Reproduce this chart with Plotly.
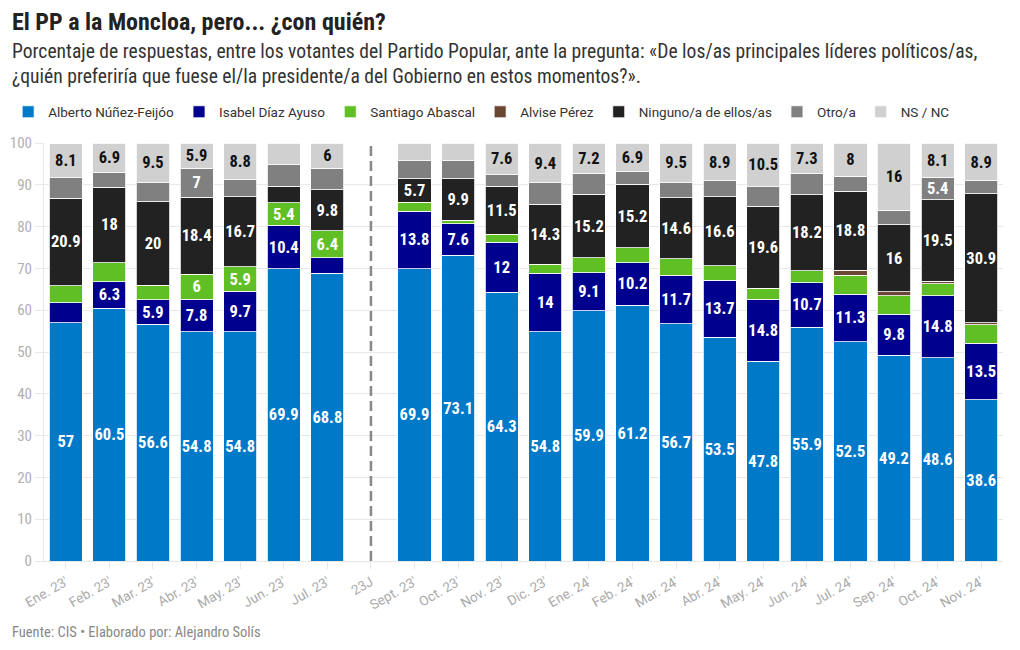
import plotly.graph_objects as go

categories = ["Ene. 23'", "Feb. 23'", "Mar. 23'", "Abr. 23'", "May. 23'", "Jun. 23'", "Jul. 23'", "23J",
              "Sept. 23'", "Oct. 23'", "Nov. 23'", "Dic. 23'", "Ene. 24'", "Feb. 24'", "Mar. 24'", "Abr. 24'",
              "May. 24'", "Jun. 24'", "Jul. 24'", "Sep. 24'", "Oct. 24'", "Nov. 24'"]

feijoo  = [57, 60.5, 56.6, 54.8, 54.8, 69.9, 68.8, None, 69.9, 73.1, 64.3, 54.8, 59.9, 61.2, 56.7, 53.5, 47.8, 55.9, 52.5, 49.2, 48.6, 38.6]
ayuso   = [4.8, 6.3, 5.9, 7.8, 9.7, 10.4, 3.8, None, 13.8, 7.6, 12, 14, 9.1, 10.2, 11.7, 13.7, 14.8, 10.7, 11.3, 9.8, 14.8, 13.5]
abascal = [4.1, 4.6, 3.5, 6, 5.9, 5.4, 6.4, None, 2.1, 0.8, 1.9, 2.2, 3.5, 3.5, 3.9, 3.4, 2.7, 2.8, 4.6, 4.5, 2.9, 4.4]
alvise  = [0, 0, 0, 0, 0, 0, 0, None, 0, 0, 0, 0, 0, 0, 0, 0, 0, 0, 1.2, 0.9, 0.6, 0.5]
ninguno = [20.9, 18, 20, 18.4, 16.7, 4.0, 9.8, None, 5.7, 9.9, 11.5, 14.3, 15.2, 15.2, 14.6, 16.6, 19.6, 18.2, 18.8, 16, 19.5, 30.9]
otro    = [4.9, 3.6, 4.5, 7, 4.1, 5.1, 5.2, None, 4.3, 4.4, 2.7, 5.2, 5.1, 3.0, 3.6, 3.8, 4.6, 5.1, 3.6, 3.5, 5.4, 3.1]
nsnc    = [8.1, 6.9, 9.5, 5.9, 8.8, 5.2, 6, None, 4.2, 4.2, 7.6, 9.4, 7.2, 6.9, 9.5, 8.9, 10.5, 7.3, 8, 16, 8.1, 8.9]

series = [
    ("Alberto Núñez-Feijóo", feijoo, "#0079C8", "white"),
    ("Isabel Díaz Ayuso", ayuso, "#00008E", "white"),
    ("Santiago Abascal", abascal, "#5FBF25", "white"),
    ("Alvise Pérez", alvise, "#6B4632", "white"),
    ("Ninguno/a de ellos/as", ninguno, "#222222", "white"),
    ("Otro/a", otro, "#808080", "white"),
    ("NS / NC", nsnc, "#D0D0D0", "#111111"),
]

FONT = "Roboto Condensed, Liberation Sans Narrow, DejaVu Sans Condensed, Roboto, sans-serif"
FONT_R = "Roboto, sans-serif"

fig = go.Figure()
for name, vals, color, tcol in series:
    labels = [("%g" % v) if (v is not None and v >= 5.3) else "" for v in vals]
    fig.add_trace(go.Bar(
        name=name, x=categories, y=vals, marker=dict(color=color, line=dict(width=0.8, color="white")),
        text=labels, texttemplate="<b>%{text}</b>", textposition="inside",
        insidetextanchor="middle", textangle=0, constraintext="none",
        textfont=dict(family=FONT, size=16.5, color=tcol),
        hoverinfo="x+y+name",
    ))

fig.add_shape(type="line", xref="x", yref="paper", x0="23J", x1="23J", y0=0, y1=1,
              line=dict(color="#888888", width=2.5, dash="10px,5px"))

fig.update_layout(
    barmode="stack", bargap=0.24,
    width=1020, height=650,
    paper_bgcolor="white", plot_bgcolor="white",
    font=dict(family=FONT, color="#333333"),
    margin=dict(l=44, r=17, t=143, b=89, autoexpand=False),
    showlegend=True,
    legend=dict(orientation="h", x=0.008, xanchor="left", y=1 - 112/650, yanchor="middle",
                xref="container", yref="container",
                font=dict(family=FONT_R, size=13.5, color="#333333"), traceorder="normal",
                itemclick=False),
)

fig.add_annotation(xref="paper", yref="paper", x=-34/959, y=1 + (143 - 22)/418, xanchor="left", yanchor="middle",
                   text="<b>El PP a la Moncloa, pero... ¿con quién?</b>", showarrow=False,
                   font=dict(family=FONT, size=24, color="#222222"))
fig.add_annotation(xref="paper", yref="paper", x=-34/959, y=1 + (143 - 64)/418, xanchor="left", yanchor="middle",
                   align="left",
                   text="Porcentaje de respuestas, entre los votantes del Partido Popular, ante la pregunta: «De los/as principales líderes políticos/as,<br>¿quién preferiría que fuese el/la presidente/a del Gobierno en estos momentos?».",
                   showarrow=False, font=dict(family=FONT, size=19.6, color="#333333"))
fig.add_annotation(xref="paper", yref="paper", x=-34/959, y=-(632 - 561)/418, xanchor="left", yanchor="middle",
                   text="Fuente: CIS • Elaborado por: Alejandro Solís", showarrow=False,
                   font=dict(family=FONT, size=14.5, color="#888888"))

fig.update_xaxes(type="category", categoryorder="array", categoryarray=categories,
                 tickangle=-30, tickfont=dict(family=FONT_R, size=13.5, color="#AAAAAA"),
                 showline=True, linecolor="#E6E6E6", ticks="outside", ticklen=7, tickcolor="#E6E6E6",
                 showgrid=False)
fig.update_yaxes(range=[0, 100], dtick=10, tickfont=dict(family=FONT, size=15, color="#B0B0B0"),
                 gridcolor="#E8E8E8", showline=True, linecolor="#E6E6E6", zeroline=False,
                 ticks="outside", ticklen=8, tickcolor="#E8E8E8")

fig.write_html("out.html")
